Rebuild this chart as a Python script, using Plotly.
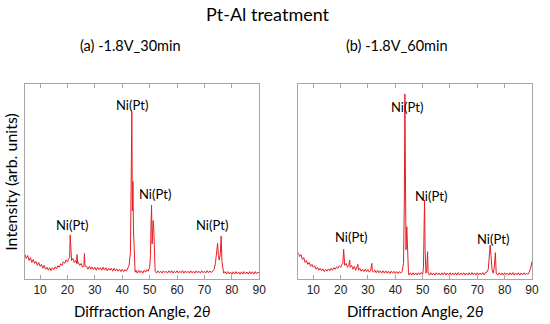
import plotly.graph_objects as go
from plotly.subplots import make_subplots

# ---------------- data ----------------
angles_a = [4.5, 5.0, 5.5, 6.0, 6.5, 7.0, 7.5, 8.0, 8.5, 9.0, 9.5, 10.0, 10.5, 11.0, 11.5, 12.0, 12.5,
            13.0, 13.5, 14.0, 14.5, 15.0, 15.5, 16.0, 16.5, 17.0, 17.5, 18.0, 18.5, 19.0, 19.5, 20.0,
            20.5, 20.8, 21.0, 21.2, 21.5, 22.0, 22.5, 23.0, 23.3, 23.5, 23.7, 24.0, 24.5, 25.0, 25.5,
            26.0, 26.2, 26.4, 27.0, 27.5, 28.0, 28.5, 29.0, 29.5, 30.0, 30.5, 31.0, 31.5, 32.0, 32.5,
            33.0, 33.5, 34.0, 34.5, 35.0, 35.5, 36.0, 36.5, 37.0, 37.5, 38.0, 38.5, 39.0, 39.5, 40.0,
            40.5, 41.0, 41.5, 42.0, 42.5, 43.0, 43.3, 43.5, 43.7, 43.9, 44.1, 44.4, 44.7, 45.0, 45.5,
            46.0, 46.5, 47.0, 47.5, 48.0, 48.5, 49.0, 49.5, 50.0, 50.3, 50.5, 50.7, 50.9, 51.1, 51.3,
            51.5, 51.7, 52.0, 52.5, 53.0, 53.5, 54.0, 54.5, 55.0, 55.5, 56.0, 56.5, 57.0, 57.5, 58.0,
            58.5, 59.0, 59.5, 60.0, 60.5, 61.0, 61.5, 62.0, 62.5, 63.0, 63.5, 64.0, 64.5, 65.0, 65.5,
            66.0, 66.5, 67.0, 67.5, 68.0, 68.5, 69.0, 69.5, 70.0, 70.5, 71.0, 71.5, 72.0, 72.5, 73.0,
            73.5, 74.0, 74.4, 74.8, 75.1, 75.4, 75.8, 76.1, 76.4, 76.8, 77.0, 77.5, 78.0, 78.5, 79.0,
            79.5, 80.0, 80.5, 81.0, 81.5, 82.0, 82.5, 83.0, 83.5, 84.0, 84.5, 85.0, 85.5, 86.0, 86.5,
            87.0, 87.5, 88.0, 88.5, 89.0, 89.5, 90.0]
intensity_a = [12.5, 10.5, 12, 9.5, 11, 8.5, 10, 8, 9, 7, 8.5, 6.5, 7.5, 5.5, 7, 5, 6,
               4.5, 5.8, 4.3, 5.8, 4.8, 6.2, 5.2, 6.8, 6, 7.8, 7, 8.8, 8, 9.8, 8.8,
               10.5, 11, 22.6, 11, 9.5, 10.5, 8.5, 9.5, 8, 12.5, 8, 8.5, 7, 8, 6,
               7, 13, 6.5, 6.5, 5, 6.5, 5, 6.2, 4.8, 6, 4.5, 6, 4.8, 5.8, 4.5,
               6, 4.5, 5.8, 4.2, 5.5, 4.5, 5.5, 4, 5.5, 4.2, 5.2, 4, 5, 3.8, 5,
               3.8, 4.8, 4, 5.5, 7, 14, 45, 85.8, 35, 50, 25, 6, 3.5, 4.5, 3,
               4.5, 3.2, 4.2, 3, 4.5, 3.5, 4.8, 4, 6, 12, 28, 37.9, 18, 24, 30,
               26, 8, 4, 3, 4.2, 3.2, 4, 3, 4.2, 3.3, 4, 3, 4.2, 3.2, 4.3,
               3, 4, 3.2, 4.2, 3, 4, 3.2, 4.3, 3, 4.1, 3.2, 4, 3, 4.2, 3.1,
               4, 3, 4.2, 3.2, 4, 3, 4.2, 3.2, 4, 3.1, 4.3, 3.2, 4.1, 3.3, 4.4,
               4.8, 8, 14, 18.3, 12, 9.7, 13, 22, 9, 4, 3, 3.8, 2.5, 3.8, 2.6,
               3.6, 2.4, 3.7, 2.5, 3.8, 2.6, 3.6, 2.4, 3.7, 2.5, 3.8, 2.6, 3.6, 2.5, 3.8,
               2.6, 3.7, 2.5, 3.8, 2.7, 3.6, 2.8]

angles_b = [4.5, 5.0, 5.5, 6.0, 6.5, 7.0, 7.5, 8.0, 8.5, 9.0, 9.5, 10.0, 10.5, 11.0, 11.5, 12.0, 12.5,
            13.0, 13.5, 14.0, 14.5, 15.0, 15.5, 16.0, 16.5, 17.0, 17.5, 18.0, 18.5, 19.0, 19.5, 20.0,
            20.5, 20.8, 21.1, 21.3, 21.5, 22.0, 22.5, 23.0, 23.3, 23.5, 24.0, 24.5, 25.0, 25.5, 26.0,
            26.3, 26.5, 27.0, 27.5, 28.0, 28.5, 29.0, 29.5, 30.0, 30.5, 31.0, 31.4, 31.6, 32.0, 32.5,
            33.0, 33.5, 34.0, 34.5, 35.0, 35.5, 36.0, 36.5, 37.0, 37.5, 38.0, 38.5, 39.0, 39.5, 40.0,
            40.5, 41.0, 41.5, 42.0, 42.5, 43.0, 43.3, 43.5, 43.7, 43.9, 44.2, 44.5, 44.8, 45.0, 45.5,
            46.0, 46.5, 47.0, 47.5, 48.0, 48.5, 49.0, 49.5, 50.0, 50.3, 50.5, 50.7, 50.9, 51.2, 51.5,
            51.8, 52.0, 52.5, 53.0, 53.5, 54.0, 54.5, 55.0, 55.5, 56.0, 56.5, 57.0, 57.5, 58.0, 58.5,
            59.0, 59.5, 60.0, 60.5, 61.0, 61.5, 62.0, 62.5, 63.0, 63.5, 64.0, 64.5, 65.0, 65.5, 66.0,
            66.5, 67.0, 67.5, 68.0, 68.5, 69.0, 69.5, 70.0, 70.5, 71.0, 71.5, 72.0, 72.5, 73.0, 73.5,
            74.0, 74.4, 74.7, 75.0, 75.4, 75.8, 76.2, 76.6, 76.9, 77.5, 78.0, 78.5, 79.0, 79.5, 80.0,
            80.5, 81.0, 81.5, 82.0, 82.5, 83.0, 83.5, 84.0, 84.5, 85.0, 85.5, 86.0, 86.5, 87.0, 87.5,
            88.0, 88.5, 89.0, 89.5, 90.0]
intensity_b = [13.5, 11.5, 12.5, 10, 11, 8.5, 9.5, 7.5, 8.5, 6.5, 7.5, 6, 6.8, 5, 6, 4.5, 5.5,
               4.2, 5.2, 3.8, 5, 4, 5.2, 4.2, 5.5, 4.5, 5.8, 5, 6.2, 5.5, 6.8, 6,
               7.5, 8, 15.2, 8, 7, 8, 6, 7, 9.7, 6, 7, 5, 6.5, 4.5, 6,
               7.5, 4.5, 5.5, 4, 5, 3.8, 5, 3.8, 4.8, 3.5, 4.5, 8, 4, 3.5, 4.5,
               3.2, 4.5, 3.2, 4.2, 3, 4.2, 3, 4.2, 3, 4, 2.8, 4, 3, 4, 2.8,
               3.8, 2.8, 3.8, 3, 4, 8, 40, 94.9, 40, 15, 26.8, 10, 3.5, 2, 3.2,
               2, 3.2, 2.1, 3.1, 2, 3.2, 2.2, 3.3, 2.4, 6, 25, 40.5, 15, 3, 5,
               14, 3, 2, 3.2, 2.1, 3.1, 2, 3.2, 2.2, 3.1, 2, 3.2, 2.1, 3.3, 2,
               3.1, 2.2, 3.2, 2, 3.1, 2.1, 3.2, 2, 3.3, 2.1, 3.1, 2.2, 3.2, 2, 3.1,
               2.1, 3.2, 2, 3.3, 2.2, 3.1, 2, 3.2, 2.1, 3.1, 2.2, 3.3, 2.1, 3.4, 3.5,
               5, 12, 17.4, 12, 4.6, 3, 6, 13.5, 3, 2, 3.2, 2.1, 3.1, 2, 3.2,
               2.2, 3.1, 2, 3.2, 2.1, 3.3, 2, 3.1, 2.2, 3.2, 2, 3.1, 2.1, 3.2, 2.2,
               3.1, 2.4, 3.5, 5.5, 9]

peak_label = "Ni(Pt)"
label_x_a = [43.5, 52.1, 21.7, 72.6]
label_y_a = [89.2, 43.6, 27.7, 27.7]
label_x_b = [44.4, 53.0, 23.8, 75.9]
label_y_b = [88.4, 42.7, 21.7, 20.5]

main_title = "Pt-Al treatment"
panel_titles = ["(a) -1.8V_30min", "(b) -1.8V_60min"]
x_title = "Diffraction Angle, 2<i>θ</i>"
y_title = "Intensity (arb. units)"
tick_vals = [10, 20, 30, 40, 50, 60, 70, 80, 90]

# ---------------- figure ----------------
LINE = "rgb(232,30,36)"
AX = "#a6a6a6"
TXT = "Lato"

fig = make_subplots(rows=1, cols=2, horizontal_spacing=0.077)
fig.add_trace(go.Scatter(x=angles_a, y=intensity_a, mode="lines",
                         line=dict(color=LINE, width=1), showlegend=False), row=1, col=1)
fig.add_trace(go.Scatter(x=angles_b, y=intensity_b, mode="lines",
                         line=dict(color=LINE, width=1), showlegend=False), row=1, col=2)

for c in (1, 2):
    fig.update_xaxes(range=[4.5, 90], tickvals=tick_vals, ticks="inside", ticklen=4,
                     tickcolor=AX, showline=True, linecolor=AX, linewidth=1, mirror="ticks",
                     showgrid=False, zeroline=False,
                     tickfont=dict(family="Liberation Sans", size=12, color="#222"),
                     row=1, col=c)
    fig.update_yaxes(range=[0, 100], showticklabels=False, ticks="", showline=True,
                     linecolor=AX, linewidth=1, mirror=True, showgrid=False, zeroline=False,
                     row=1, col=c)

fig.update_layout(xaxis=dict(domain=[0, 0.462]), xaxis2=dict(domain=[0.539, 1]))

ann = []
for xs, ys, xr, yr in ((label_x_a, label_y_a, "x", "y"), (label_x_b, label_y_b, "x2", "y2")):
    for xv, yv in zip(xs, ys):
        ann.append(dict(x=xv, y=yv, xref=xr, yref=yr, text=peak_label, showarrow=False,
                        font=dict(family=TXT, size=13, color="black"),
                        xanchor="center", yanchor="middle"))

ann.append(dict(x=0.480, y=1.359, xref="paper", yref="paper", text=main_title, showarrow=False,
                font=dict(family=TXT, size=18, color="black"), xanchor="center", yanchor="middle"))
ann.append(dict(x=0.208, y=1.195, xref="paper", yref="paper", text=panel_titles[0], showarrow=False,
                font=dict(family=TXT, size=14.5, color="black"), xanchor="center", yanchor="middle"))
ann.append(dict(x=0.733, y=1.195, xref="paper", yref="paper", text=panel_titles[1], showarrow=False,
                font=dict(family=TXT, size=14.5, color="black"), xanchor="center", yanchor="middle"))
for xc in (0.231, 0.770):
    ann.append(dict(x=xc, y=-0.164, xref="paper", yref="paper", text=x_title, showarrow=False,
                    font=dict(family=TXT, size=15, color="black"), xanchor="center", yanchor="middle"))
ann.append(dict(x=-0.029, y=0.5, xref="paper", yref="paper", text=y_title, showarrow=False,
                textangle=-90, font=dict(family=TXT, size=16, color="black"),
                xanchor="center", yanchor="middle"))

fig.update_layout(width=550, height=324, margin=dict(l=25, r=10.6, t=84, b=45),
                  paper_bgcolor="white", plot_bgcolor="white", annotations=ann)

fig.write_html("out.html", config={"displayModeBar": False},
               post_script="document.body.style.margin='0px';")
